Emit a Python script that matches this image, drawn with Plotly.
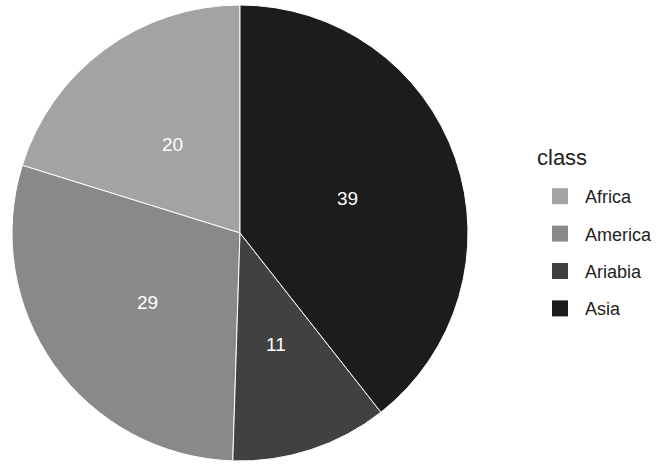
import math
import plotly.graph_objects as go

classes = ["Africa", "America", "Ariabia", "Asia"]
values = [20, 29, 11, 39]
colors = ["#a3a3a3", "#898989", "#414141", "#1c1c1c"]
legend_title = "class"

W, H = 662, 466
cx_px, cy_px, r_px = 240, 233, 228
total = sum(values)
FONT = "Liberation Sans, Arial, sans-serif"

fig = go.Figure(go.Pie(
    labels=classes,
    values=values,
    sort=False,
    direction="counterclockwise",
    rotation=-values[0] / total * 360,
    marker=dict(colors=colors, line=dict(color="white", width=1)),
    textinfo="none",
    domain=dict(x=[(cx_px - r_px) / W, (cx_px + r_px) / W],
                y=[1 - (cy_px + r_px) / H, 1 - (cy_px - r_px) / H]),
    hoverinfo="label+value",
    showlegend=False,
))

# legend entries (one group per class so the entries are spaced like the reference)
for lab, c in zip(classes, colors):
    fig.add_trace(go.Scatter(
        x=[None], y=[None], mode="markers", name=lab, legendgroup=lab,
        marker=dict(symbol="square", size=16, color=c, line=dict(width=0)),
        showlegend=True, hoverinfo="skip",
    ))

# value labels at half radius, mid-angle of each slice (ggplot-style)
cum = 0
for lab, v in zip(classes, values):
    theta = -(cum + v / 2) / total * 2 * math.pi
    cum += v
    x = (cx_px + 0.5 * r_px * math.sin(theta)) / W
    y = 1 - (cy_px - 0.5 * r_px * math.cos(theta)) / H
    fig.add_annotation(x=x, y=y, xref="paper", yref="paper", text=str(v),
                       showarrow=False, xanchor="center", yanchor="middle",
                       yshift=-3,
                       font=dict(color="white", size=19, family=FONT))

# legend title
fig.add_annotation(x=535 / W, y=1 - 158 / H, xref="paper", yref="paper",
                   text=legend_title, showarrow=False,
                   xanchor="left", yanchor="middle",
                   font=dict(size=22, color="#222222", family=FONT))

fig.update_layout(
    width=W, height=H,
    margin=dict(l=0, r=0, t=0, b=0),
    paper_bgcolor="white",
    plot_bgcolor="white",
    xaxis=dict(visible=False),
    yaxis=dict(visible=False),
    showlegend=True,
    legend=dict(
        font=dict(size=18, color="#222222", family=FONT),
        x=535 / W, y=1 - 178 / H, xanchor="left", yanchor="top",
        itemwidth=40, itemsizing="trace",
        tracegroupgap=11,
        traceorder="grouped",
    ),
)

fig.write_html("out.html", post_script="document.body.style.margin='0';",
               config={"displayModeBar": False})
